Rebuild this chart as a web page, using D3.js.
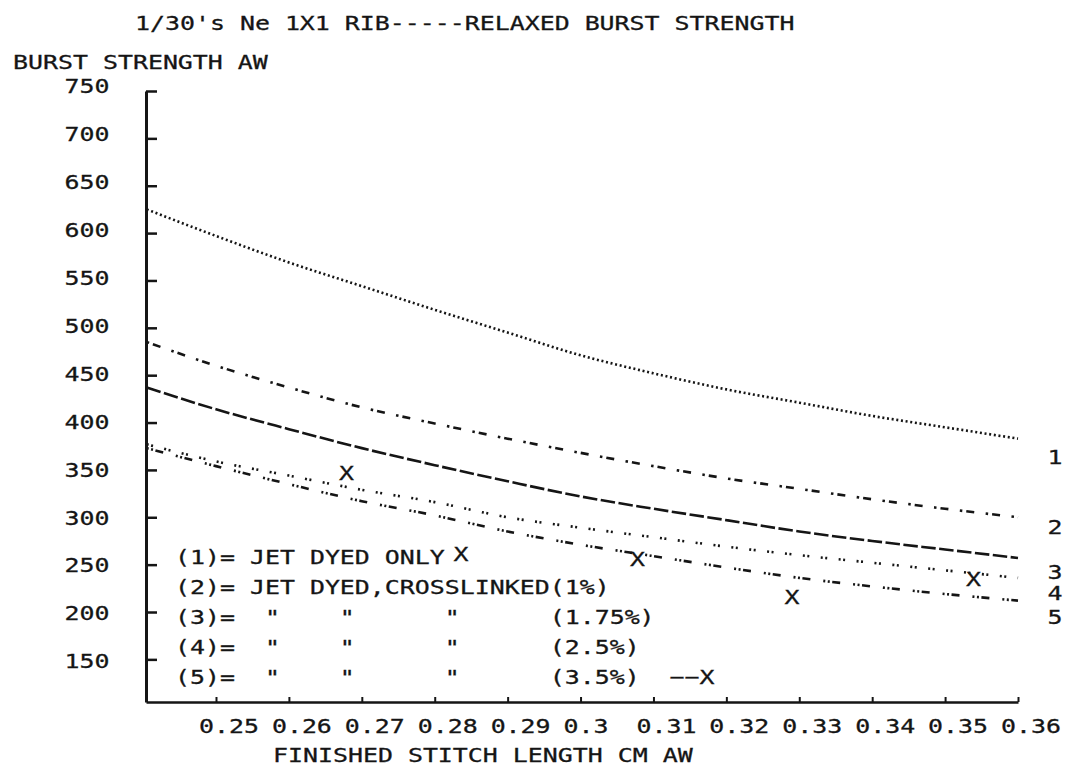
<!DOCTYPE html>
<html>
<head>
<meta charset="utf-8">
<script src="https://cdnjs.cloudflare.com/ajax/libs/d3/7.8.5/d3.min.js"></script>
<style>
  html, body { margin: 0; padding: 0; background: #fff; }
  svg text {
    font-family: "DejaVu Sans Mono", monospace;
    font-size: 20px;
    fill: #151515;
    stroke: #151515;
    stroke-width: 0.3px;
    white-space: pre;
  }
</style>
</head>
<body>
<div id="chart_container"></div>
<script>
// values, one entry per stitch length
let stitch_length = [0.2405, 0.25, 0.26, 0.27, 0.28, 0.29, 0.30, 0.31, 0.32, 0.33, 0.34, 0.35, 0.36];
let burst_1 = [625, 597, 569, 544, 519, 495, 471, 452, 435, 421, 407, 395, 383];
let burst_2 = [485, 460, 437, 416, 399, 383, 368, 354, 341, 330, 319, 309, 300];
let burst_3 = [437, 414, 393, 373, 355, 338, 322, 309, 297, 285, 275, 266, 257];
let burst_4 = [377, 359, 344, 329, 316, 300, 289, 279, 269, 260, 252, 244, 236];
let burst_5 = [373, 354, 335, 317, 302, 285, 271, 259, 247, 236, 227, 219, 212];

// measured points for the 3.5% sample (the X marks)
let point_x = [0.2679, 0.2836, 0.3078, 0.3290, 0.3539];
let point_y = [347, 261, 256, 216, 235];

// curve numbers written at the right hand end
let series_tags = ["1", "2", "3", "4", "5"];
let tag_values = [364, 290, 242, 220, 195];

let x_ticks = [0.25, 0.26, 0.27, 0.28, 0.29, 0.30, 0.31, 0.32, 0.33, 0.34, 0.35, 0.36];
let y_ticks = [150, 200, 250, 300, 350, 400, 450, 500, 550, 600, 650, 700, 750];

let title_text = "1/30's Ne 1X1 RIB-----RELAXED BURST STRENGTH";
let y_title = "BURST STRENGTH AW";
let x_title = "FINISHED STITCH LENGTH CM AW";
let legend_rows = [
  "(1)= JET DYED ONLY",
  "(2)= JET DYED,CROSSLINKED(1%)",
  "(3)=  \"    \"      \"      (1.75%)",
  "(4)=  \"    \"      \"      (2.5%)",
  "(5)=  \"    \"      \"      (3.5%)  \u2212\u2212X"
];

let ink = "#151515";
let stretch = 1.245;   // plotter glyphs are wider than DejaVu Mono

// plotter line styles, top curve to bottom curve
let line_dash = [
  "2,2.7",
  "2.5,4,8,11.5",
  "14.5,3.5",
  "2,2.5,2,11.5",
  "2,2.5,2,2.5,8,13"
];

let place = function hst_place(x, y)
{
  return ("translate(" + x + "," + y + ") scale(" + stretch + ",1)");
}

let add_text = function hst_add_text(svg, x, y, str)
{
  svg.append("text")
    .attr("x", 0)
    .attr("y", 0)
    .attr("transform", place(x, y))
    .text(str);
  return (null);
}

let draw_chart = function hst_draw_chart(container_id)
{
  let svg = d3.select("#" + container_id)
    .append("svg")
      .attr("width", 1065)
      .attr("height", 766)
      .attr("xmlns", "http://www.w3.org/2000/svg")
      .style("display", "block")
      .style("background", "#fff");

  let x_scale = d3.scaleLinear()
                  .domain([0.2404, 0.36])
                  .range([146, 1018]);

  let y_scale = d3.scaleLinear()
                  .domain([105, 750])
                  .range([702, 91]);

  // titles
  add_text(svg, 135, 30, title_text);
  add_text(svg, 13, 69, y_title);
  add_text(svg, 273, 762, x_title);

  // y axis, ticks pointing into the plot
  let y_axis = d3.axisLeft(y_scale)
                 .tickValues(y_ticks)
                 .tickSize(-11)
                 .tickSizeOuter(0)
                 .tickFormat(d3.format("d"));

  let y_g = svg.append("g")
    .attr("transform", "translate(146,0)")
    .call(y_axis);
  y_g.select(".domain").attr("stroke", ink).attr("stroke-width", 3);
  y_g.selectAll(".tick line").attr("stroke", ink).attr("stroke-width", 2.5);
  // the plotter wrote the labels slightly off the tick spacing
  y_g.selectAll(".tick text")
    .attr("x", 0)
    .attr("dy", null)
    .attr("transform", d => place(-36.5, 8.5 - 7 * (d - 150) / 600));

  // x axis, short ticks pointing up
  let x_axis = d3.axisBottom(x_scale)
                 .tickValues(x_ticks)
                 .tickSize(-5)
                 .tickSizeOuter(0)
                 .tickFormat(d => String(+d.toFixed(2)));

  let x_g = svg.append("g")
    .attr("transform", "translate(0,702)")
    .call(x_axis);
  x_g.select(".domain").attr("stroke", ink).attr("stroke-width", 2.5);
  x_g.selectAll(".tick line").attr("stroke", ink).attr("stroke-width", 2);
  x_g.selectAll(".tick text")
    .attr("text-anchor", "start")
    .attr("x", 0)
    .attr("y", 0)
    .attr("dy", null)
    .attr("transform", place(-17.5, 31));

  // curves
  let all_series = [burst_1, burst_2, burst_3, burst_4, burst_5];

  let line_gen = d3.line()
    .x((d, i) => x_scale(stitch_length[i]))
    .y(d => y_scale(d))
    .curve(d3.curveMonotoneX);

  svg.append("g")
    .selectAll("path")
    .data(all_series)
    .join("path")
      .attr("d", line_gen)
      .attr("fill", "none")
      .attr("stroke", ink)
      .attr("stroke-width", 2.6)
      .attr("stroke-dasharray", (d, i) => line_dash[i]);

  // curve numbers
  svg.append("g")
    .selectAll("text")
    .data(series_tags)
    .join("text")
      .attr("text-anchor", "middle")
      .attr("transform", (d, i) => place(1055, y_scale(tag_values[i]) + 7))
      .text(d => d);

  // X marks
  svg.append("g")
    .selectAll("text")
    .data(point_x)
    .join("text")
      .attr("text-anchor", "middle")
      .attr("transform", (d, i) => place(x_scale(d), y_scale(point_y[i]) + 7))
      .text("X");

  // legend block
  svg.append("g")
    .selectAll("text")
    .data(legend_rows)
    .join("text")
      .attr("xml:space", "preserve")
      .attr("transform", (d, i) => place(175, 564 + i * 30))
      .text(d => d);

  return (null);
}

draw_chart("chart_container");
</script>
</body>
</html>
